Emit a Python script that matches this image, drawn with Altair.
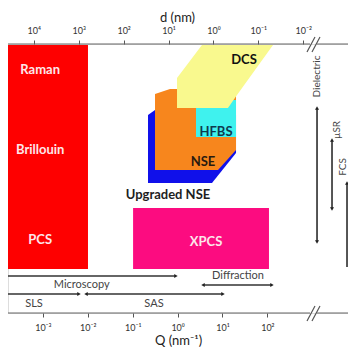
import math
import altair as alt
import pandas as pd

# ---------------- data (x: Q in nm^-1, log scale; y: log10(t / s), top = short times)
Q_DOMAIN = [1.671e-4, 6237.0]
T_DOMAIN = [-14.0, 0.0]

q_ticks = [1e-4, 1e-3, 1e-2, 1e-1, 1, 10, 100]
d_ticks = [1e4, 1e3, 1e2, 10, 1, 0.1, 0.01]

# big blocks: Raman/Brillouin/PCS and XPCS
block_q1 = [1e-4, 0.102]
block_q2 = [0.0101, 108.4]
block_t1 = [-13.95, -5.465]
block_t2 = [-2.29, -2.29]
block_color = ["#fe0000", "#fc0c80"]

# HFBS
hfbs_q = [2.57, 20.0]
hfbs_t = [-11.085, -9.16]

# Upgraded NSE (blue)
unse_q = [0.2193, 0.3141, 5.834, 20.0]
unse_top = [-10.305, -10.565, -10.565, -10.565]
unse_bot = [-6.766, -6.766, -6.766, -8.327]

# NSE (orange)
nse_q = [0.3141, 0.678, 7.943, 20.0]
nse_top = [-11.398, -11.658, -11.658, -11.658]
nse_bot = [-7.442, -7.442, -7.442, -8.483]

# DCS (yellow)
dcs_q = [0.9705, 3.491, 13.24, 21.04, 133.4]
dcs_top = [-12.23, -13.948, -13.948, -13.948, -13.948]
dcs_bot = [-10.669, -10.669, -10.669, -11.346, -13.948]

# labels
big_text = ["Raman", "Brillouin", "PCS", "XPCS"]
big_q = [8.7e-4, 8.7e-4, 8.7e-4, 4.295]
big_t = [-12.621, -8.499, -3.799, -3.711]

inst_text = ["DCS", "HFBS", "NSE", "Upgraded NSE"]
inst_q = [30.13, 7.161, 3.681, 0.6109]
inst_t = [-13.167, -9.436, -7.875, -6.141]
inst_color = ["#111111", "#0f3a4e", "#2a1a10", "#1e1e1e"]

small_text = ["Microscopy", "SLS", "SAS", "Diffraction"]
small_q = [7.31e-3, 6.34e-4, 0.298, 22.13]
small_t = [-1.457, -0.468, -0.468, -1.926]

vert_text = ["Dielectric", "µSR", "FCS"]
vert_q = [1274, 3548, 4831]
vert_t = [-12.31, -9.524, -7.598]

# horizontal ranges
h_name = ["Microscopy", "SLS", "SAS", "Diffraction"]
h_q1 = [1e-4, 1e-4, 0.00912, 3.68]
h_q2 = [0.920, 0.00637, 10.26, 126.5]
h_t = [-1.926, -0.989, -0.989, -1.457]

# vertical ranges
v_name = ["Dielectric", "µSR", "FCS"]
v_q = [1274, 2748, 5929]
v_t1 = [-10.669, -9.004, -6.766]
v_t2 = [-3.695, -5.413, -2.394]

# arrow heads
head_q = [0.920, 0.00637, 0.00912, 10.26, 3.68, 126.5, 1274, 1274, 2748, 2748, 5929]
head_t = [-1.926, -0.989, -0.989, -0.989, -1.457, -1.457, -10.669, -3.695, -9.004, -5.413, -6.766]
head_shape = ["triangle-right", "triangle-right", "triangle-left", "triangle-right",
              "triangle-left", "triangle-right", "triangle-up", "triangle-down",
              "triangle-up", "triangle-down", "triangle-up"]

# axis lines with break
axl_q1 = [1e-4, 1274, 1e-4, 1274]
axl_q2 = [889.2, 2e4, 889.2, 2e4]
axl_t = [-14.0, -14.0, 0.0, 0.0]

# break slashes
sl_q1 = [762.1, 984.0, 762.1, 984.0]
sl_q2 = [1148, 1483, 1148, 1483]
sl_t1 = [-13.584, -13.584, 0.416, 0.416]
sl_t2 = [-14.364, -14.364, -0.364, -0.364]

# ---------------- scales / axes
FONT = "Lato"
SUP = "['⁰','¹','²','³','⁴','⁵','⁶']"

qscale = alt.Scale(type="log", domain=Q_DOMAIN, nice=False)
tscale = alt.Scale(domain=T_DOMAIN, reverse=True, nice=False, zero=False)
dscale = alt.Scale(type="log", domain=[2 * math.pi / Q_DOMAIN[1], 2 * math.pi / Q_DOMAIN[0]],
                   reverse=True, nice=False)


def sup_expr():
    e = "round(log(datum.value)/LN10)"
    return f"'10' + ({e} < 0 ? '⁻' : '') + {SUP}[abs({e})]"


common_axis = dict(domain=False, ticks=True, tickSize=4, tickColor="#555", tickWidth=1,
                   labelFontSize=9, labelColor="#333", labelFont=FONT, labelFlush=False,
                   labelOverlap=False, grid=False, titleFont=FONT, titleFontSize=13,
                   titleFontWeight="normal", titleColor="#222", titleBaseline="middle",
                   titleAlign="center", labelExpr=sup_expr())

qaxis = alt.Axis(values=q_ticks, title="Q (nm⁻¹)", labelPadding=6,
                 titleX=170, titleY=27, orient="bottom", **common_axis)
daxis = alt.Axis(values=d_ticks, title="d (nm)", labelPadding=5,
                 titleX=169, titleY=-27, orient="top", **common_axis)


def X(f):
    return alt.X(f"{f}:Q", scale=qscale, axis=qaxis)


def Y(f):
    return alt.Y(f"{f}:Q", scale=tscale, axis=None)


blocks = alt.Chart(pd.DataFrame({"q1": block_q1, "q2": block_q2, "t1": block_t1,
                                 "t2": block_t2, "c": block_color})).mark_rect().encode(
    x=X("q1"), x2="q2", y=Y("t1"), y2="t2", color=alt.Color("c:N", scale=None))


def poly(q, top, bot, color):
    return alt.Chart(pd.DataFrame({"q": q, "top": top, "bot": bot})).mark_area(
        color=color, orient="vertical", opacity=1).encode(x=X("q"), y=Y("top"), y2="bot")


unse = poly(unse_q, unse_top, unse_bot, "#1010ea")
nse = poly(nse_q, nse_top, nse_bot, "#f7861d")
hfbs = alt.Chart(pd.DataFrame({"q1": [hfbs_q[0]], "q2": [hfbs_q[1]],
                               "t1": [hfbs_t[0]], "t2": [hfbs_t[1]]})).mark_rect(
    color="#3ff2ee").encode(x=X("q1"), x2="q2", y=Y("t1"), y2="t2")
dcs = poly(dcs_q, dcs_top, dcs_bot, "#f9f98e")

big_lbl = alt.Chart(pd.DataFrame({"s": big_text, "q": big_q, "t": big_t})).mark_text(
    font=FONT, fontSize=13, fontWeight="bold", color="#fde6ea").encode(
    x=X("q"), y=Y("t"), text="s:N")

inst_lbl = alt.Chart(pd.DataFrame({"s": inst_text, "q": inst_q, "t": inst_t,
                                   "c": inst_color})).mark_text(
    font=FONT, fontSize=13, fontWeight="bold").encode(
    x=X("q"), y=Y("t"), text="s:N", color=alt.Color("c:N", scale=None))

small_lbl = alt.Chart(pd.DataFrame({"s": small_text, "q": small_q, "t": small_t})).mark_text(
    font=FONT, fontSize=11, color="#444").encode(x=X("q"), y=Y("t"), text="s:N")

vert_lbl = alt.Chart(pd.DataFrame({"s": vert_text, "q": vert_q, "t": vert_t})).mark_text(
    font=FONT, fontSize=10, color="#444", angle=270).encode(x=X("q"), y=Y("t"), text="s:N")

hlines = alt.Chart(pd.DataFrame({"n": h_name, "q1": h_q1, "q2": h_q2, "t": h_t})).mark_rule(
    color="#333", strokeWidth=1.3).encode(x=X("q1"), x2="q2", y=Y("t"))

vlines = alt.Chart(pd.DataFrame({"n": v_name, "q": v_q, "t1": v_t1, "t2": v_t2})).mark_rule(
    color="#444", strokeWidth=1.8).encode(x=X("q"), y=Y("t1"), y2="t2")

heads = alt.Chart(pd.DataFrame({"q": head_q, "t": head_t, "sh": head_shape})).mark_point(
    filled=True, color="#222", size=16, opacity=1).encode(
    x=X("q"), y=Y("t"), shape=alt.Shape("sh:N", scale=None))

axlines = alt.Chart(pd.DataFrame({"q1": axl_q1, "q2": axl_q2, "t": axl_t})).mark_rule(
    color="#666", strokeWidth=1.2).encode(x=X("q1"), x2="q2", y=Y("t"))

slashes = alt.Chart(pd.DataFrame({"q1": sl_q1, "q2": sl_q2, "t1": sl_t1, "t2": sl_t2})).mark_rule(
    color="#555", strokeWidth=1.2).encode(x=X("q1"), x2="q2", y=Y("t1"), y2="t2")

main = alt.layer(blocks, unse, nse, hfbs, dcs, big_lbl, inst_lbl, small_lbl, vert_lbl,
                 hlines, vlines, heads, axlines, slashes)

dlayer = alt.Chart(pd.DataFrame({"d": d_ticks})).mark_point(opacity=0).encode(
    x=alt.X("d:Q", scale=dscale, axis=daxis), y=alt.value(0))

chart = alt.layer(main, dlayer).resolve_scale(x="independent").properties(
    width=340, height=269, autosize=alt.AutoSizeParams(type="none"),
    padding={"left": 0, "top": 36, "right": 0, "bottom": 35},
    background="white",
).configure_view(stroke=None).configure(font=FONT)

chart.save("out.html", embed_options={"renderer": "svg", "actions": False})
